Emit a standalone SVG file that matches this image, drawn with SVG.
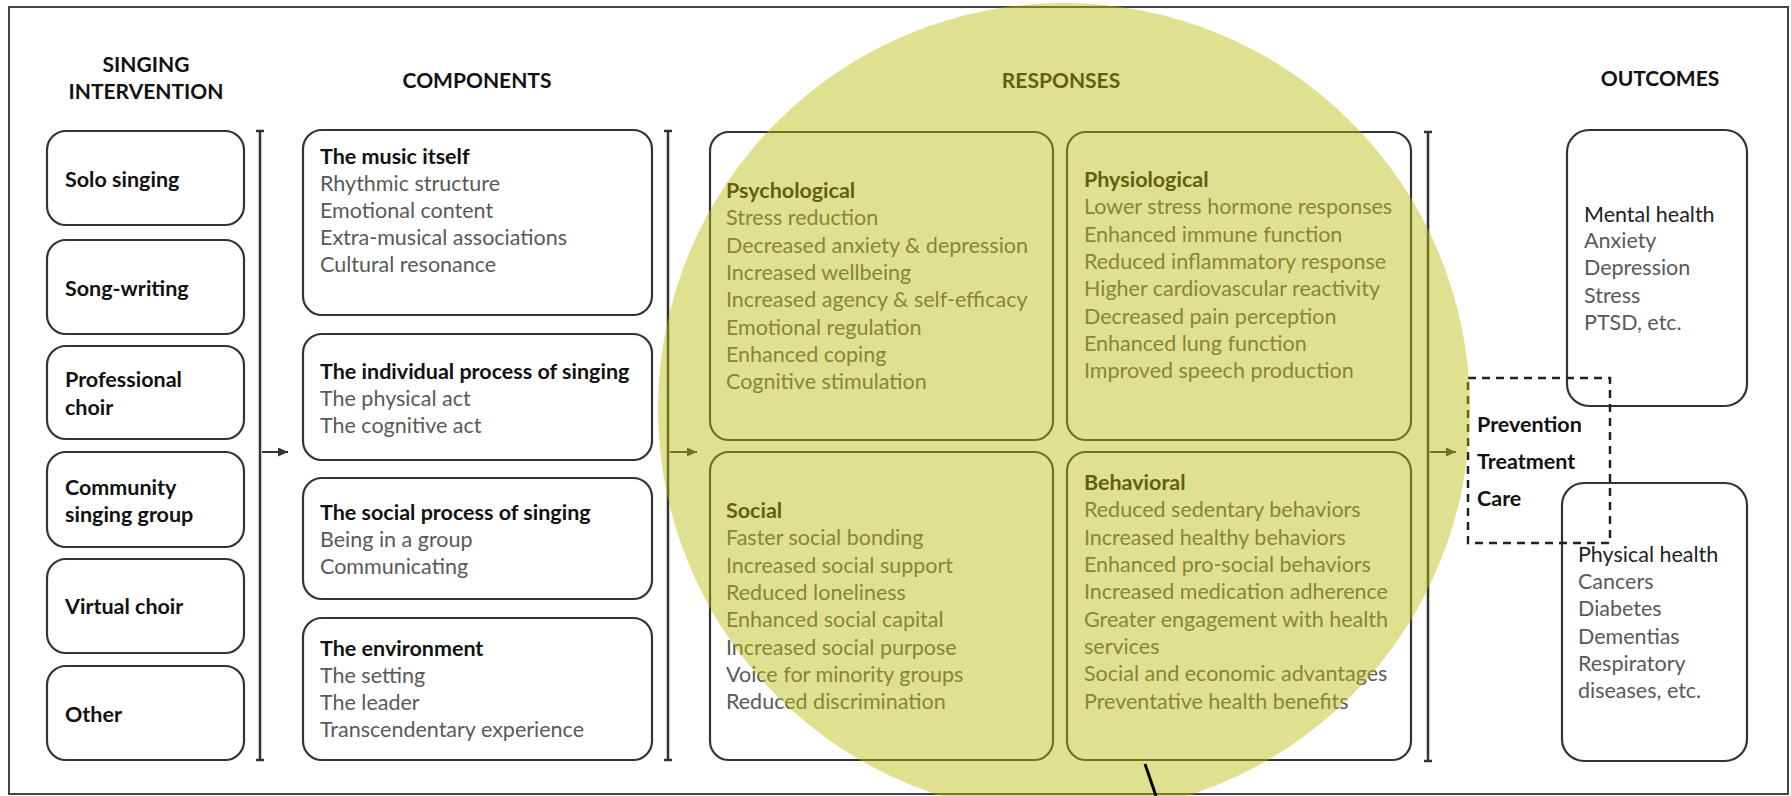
<svg xmlns="http://www.w3.org/2000/svg" width="1791" height="796" viewBox="0 0 1791 796">
<style>
.box{fill:#fff;stroke:#333;stroke-width:2.2}
.t{font-family:Lato,"Open Sans",sans-serif;font-size:21.5px;fill:#595959}
.d{font-family:Lato,"Open Sans",sans-serif;font-size:21.5px;fill:#222}
.b{font-family:Lato,"Open Sans",sans-serif;font-size:21.5px;font-weight:700;fill:#111}
.h{font-family:Lato,"Open Sans",sans-serif;font-size:21px;font-weight:700;fill:#111;text-anchor:middle}
.br{stroke:#333;stroke-width:2.5;fill:none}
.dash{fill:none;stroke:#222;stroke-width:2.5;stroke-dasharray:8 6}
</style>
<defs>
<marker id="ah" markerUnits="userSpaceOnUse" markerWidth="10" markerHeight="9" refX="10" refY="4.5" orient="auto">
<path d="M0,0 L10,4.5 L0,9 z" fill="#333"/>
</marker>
</defs>
<rect x="0" y="0" width="1791" height="796" fill="#fff"/>
<rect id="frame" x="9" y="7" width="1779" height="787" fill="none" stroke="#444" stroke-width="2"/>

<g id="headers">
<text class="h" x="146" y="72">SINGING</text>
<text class="h" x="146" y="99">INTERVENTION</text>
<text class="h" x="477" y="88">COMPONENTS</text>
<text class="h" x="1061" y="88">RESPONSES</text>
<text class="h" x="1660" y="86">OUTCOMES</text>
</g>

<g id="intervention">
<g id="n-solo"><rect class="box" x="47" y="131" width="197" height="94" rx="19"/><text class="b" x="65" y="187">Solo singing</text></g>
<g id="n-song"><rect class="box" x="47" y="240" width="197" height="94" rx="19"/><text class="b" x="65" y="296">Song-writing</text></g>
<g id="n-prof"><rect class="box" x="47" y="346" width="197" height="93" rx="19"/><text class="b" x="65" y="387">Professional</text><text class="b" x="65" y="415">choir</text></g>
<g id="n-comm"><rect class="box" x="47" y="452" width="197" height="95" rx="19"/><text class="b" x="65" y="495">Community</text><text class="b" x="65" y="522">singing group</text></g>
<g id="n-virt"><rect class="box" x="47" y="559" width="197" height="94" rx="19"/><text class="b" x="65" y="614">Virtual choir</text></g>
<g id="n-other"><rect class="box" x="47" y="666" width="197" height="94" rx="19"/><text class="b" x="65" y="722">Other</text></g>
</g>

<g id="components">
<g id="n-music"><rect class="box" x="303" y="130" width="349" height="185" rx="19"/>
<text class="b" x="320" y="164">The music itself</text>
<text class="t" x="320" y="191">Rhythmic structure</text>
<text class="t" x="320" y="218">Emotional content</text>
<text class="t" x="320" y="245">Extra-musical associations</text>
<text class="t" x="320" y="272">Cultural resonance</text></g>
<g id="n-indiv"><rect class="box" x="303" y="334" width="349" height="126" rx="19"/>
<text class="b" x="320" y="379">The individual process of singing</text>
<text class="t" x="320" y="406">The physical act</text>
<text class="t" x="320" y="433">The cognitive act</text></g>
<g id="n-social-proc"><rect class="box" x="303" y="478" width="349" height="121" rx="19"/>
<text class="b" x="320" y="520">The social process of singing</text>
<text class="t" x="320" y="547">Being in a group</text>
<text class="t" x="320" y="574">Communicating</text></g>
<g id="n-env"><rect class="box" x="303" y="618" width="349" height="142" rx="19"/>
<text class="b" x="320" y="656">The environment</text>
<text class="t" x="320" y="683">The setting</text>
<text class="t" x="320" y="710">The leader</text>
<text class="t" x="320" y="737">Transcendentary experience</text></g>
</g>

<g id="responses">
<g id="n-psych"><rect class="box" x="710" y="132" width="343" height="308" rx="19"/>
<text class="b" x="726" y="198">Psychological</text>
<text class="t" x="726" y="225">Stress reduction</text>
<text class="t" x="726" y="252.5">Decreased anxiety &amp; depression</text>
<text class="t" x="726" y="280">Increased wellbeing</text>
<text class="t" x="726" y="307">Increased agency &amp; self-efficacy</text>
<text class="t" x="726" y="334.5">Emotional regulation</text>
<text class="t" x="726" y="362">Enhanced coping</text>
<text class="t" x="726" y="389">Cognitive stimulation</text></g>
<g id="n-physio"><rect class="box" x="1067" y="132" width="344" height="308" rx="19"/>
<text class="b" x="1084" y="187">Physiological</text>
<text class="t" x="1084" y="214">Lower stress hormone responses</text>
<text class="t" x="1084" y="241.5">Enhanced immune function</text>
<text class="t" x="1084" y="269">Reduced inflammatory response</text>
<text class="t" x="1084" y="296">Higher cardiovascular reactivity</text>
<text class="t" x="1084" y="323.5">Decreased pain perception</text>
<text class="t" x="1084" y="351">Enhanced lung function</text>
<text class="t" x="1084" y="378">Improved speech production</text></g>
<g id="n-social"><rect class="box" x="710" y="452" width="343" height="308" rx="19"/>
<text class="b" x="726" y="518">Social</text>
<text class="t" x="726" y="545">Faster social bonding</text>
<text class="t" x="726" y="572.5">Increased social support</text>
<text class="t" x="726" y="600">Reduced loneliness</text>
<text class="t" x="726" y="627">Enhanced social capital</text>
<text class="t" x="726" y="654.5">Increased social purpose</text>
<text class="t" x="726" y="682">Voice for minority groups</text>
<text class="t" x="726" y="709">Reduced discrimination</text></g>
<g id="n-behav"><rect class="box" x="1067" y="452" width="344" height="308" rx="19"/>
<text class="b" x="1084" y="490">Behavioral</text>
<text class="t" x="1084" y="517">Reduced sedentary behaviors</text>
<text class="t" x="1084" y="544.5">Increased healthy behaviors</text>
<text class="t" x="1084" y="572">Enhanced pro-social behaviors</text>
<text class="t" x="1084" y="599">Increased medication adherence</text>
<text class="t" x="1084" y="626.5">Greater engagement with health</text>
<text class="t" x="1084" y="654">services</text>
<text class="t" x="1084" y="681">Social and economic advantages</text>
<text class="t" x="1084" y="708.5">Preventative health benefits</text></g>
</g>

<g id="outcomes">
<g id="n-mental"><rect class="box" x="1567" y="130" width="180" height="276" rx="22"/>
<text class="d" x="1584" y="222">Mental health</text>
<text class="t" x="1584" y="248">Anxiety</text>
<text class="t" x="1584" y="275">Depression</text>
<text class="t" x="1584" y="303">Stress</text>
<text class="t" x="1584" y="330">PTSD, etc.</text></g>
<g id="n-physical"><rect class="box" x="1562" y="483" width="185" height="278" rx="22"/>
<text class="d" x="1578" y="562">Physical health</text>
<text class="t" x="1578" y="589">Cancers</text>
<text class="t" x="1578" y="616">Diabetes</text>
<text class="t" x="1578" y="644">Dementias</text>
<text class="t" x="1578" y="671">Respiratory</text>
<text class="t" x="1578" y="698">diseases, etc.</text></g>
<g id="n-ptc"><rect class="dash" x="1468" y="378" width="142" height="165"/>
<text class="b" x="1477" y="432">Prevention</text>
<text class="b" x="1477" y="469">Treatment</text>
<text class="b" x="1477" y="506">Care</text></g>
</g>

<g id="connectors">
<path class="br" d="M260,131 V760 M256,131 H264 M256,760 H264"/>
<path class="br" d="M668,131 V760 M664,131 H672 M664,760 H672"/>
<path class="br" d="M1428,132 V761 M1424,132 H1432 M1424,761 H1432"/>
<line x1="262" y1="452" x2="288" y2="452" stroke="#333" stroke-width="2" marker-end="url(#ah)"/>
<line x1="670" y1="452" x2="697" y2="452" stroke="#333" stroke-width="2" marker-end="url(#ah)"/>
<line x1="1430" y1="452" x2="1456" y2="452" stroke="#333" stroke-width="2" marker-end="url(#ah)"/>
</g>

<circle id="highlight" cx="1064" cy="409" r="406" fill="rgb(186,188,12)" fill-opacity="0.46"/>
<line id="slash" x1="1145" y1="764" x2="1156" y2="796" stroke="#000" stroke-width="3"/>
</svg>
